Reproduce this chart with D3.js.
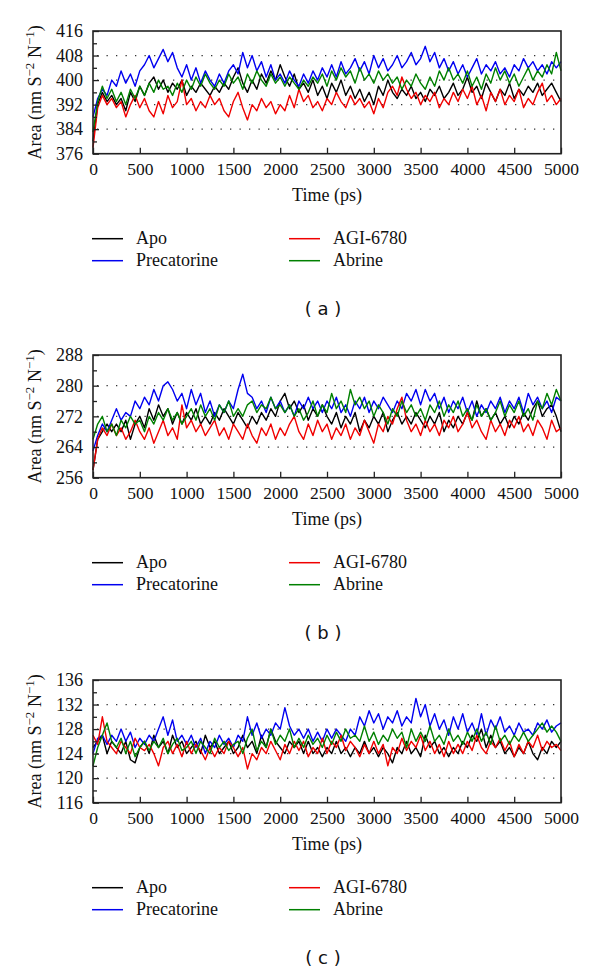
<!DOCTYPE html>
<html><head><meta charset="utf-8">
<script src="https://cdn.jsdelivr.net/npm/d3@7"></script>
<style>body{margin:0;background:#fff}svg{display:block}</style>
</head><body>
<svg id="c" width="600" height="971"></svg>
<script>
const timePs = d3.range(0, 5001, 50);
const seriesNames = ["Apo", "Precatorine", "AGI-6780", "Abrine"];
const seriesColors = ["#000000", "#0000f0", "#f00000", "#008000"];
const panelLabels = ["( a )", "( b )", "( c )"];
const yDomains = [[376, 416], [256, 288], [116, 136]];
const yTickStep = [8, 8, 4];
const xTicks = [0,500,1000,1500,2000,2500,3000,3500,4000,4500,5000];

const aApo = [380,392,396,393,395,392,394,390,396,393,398,395,399,401,397,400,396,399,397,400,395,398,396,399,397,395,398,396,399,397,401,404,399,396,400,397,402,399,403,400,405,401,398,402,397,399,396,400,395,398,394,399,396,400,395,398,394,397,393,396,392,398,395,400,396,394,397,395,398,394,396,393,397,395,398,394,396,399,395,397,401,396,398,394,399,396,393,397,395,399,394,397,395,398,396,399,395,397,399,396,393];
const aPrec = [388,394,397,395,400,398,403,399,402,398,403,405,408,404,407,410,406,409,404,401,405,400,404,399,403,400,398,402,399,403,405,402,409,404,408,403,406,401,405,400,402,399,403,400,398,402,399,403,400,404,401,405,401,406,402,404,407,403,406,402,408,404,407,403,405,408,404,406,409,405,407,411,406,409,404,407,403,406,402,405,401,404,407,402,405,403,406,402,404,401,405,403,407,404,406,403,405,402,406,404,406];
const aAgi = [378,391,395,392,394,391,393,388,392,395,391,394,390,388,393,389,395,391,393,400,392,394,390,393,391,395,392,394,390,388,393,396,391,387,392,390,394,391,393,389,392,390,395,391,397,393,395,391,393,390,394,392,396,393,391,395,392,394,391,393,389,394,391,396,398,395,401,397,394,396,392,395,393,396,391,394,392,396,393,397,394,398,392,395,390,396,393,397,392,395,393,397,391,394,392,396,399,393,395,392,394];
const aAbr = [383,393,398,394,397,393,396,392,397,394,398,395,399,396,400,397,398,395,399,396,400,397,401,398,402,399,397,400,398,402,399,401,397,402,399,403,400,398,402,399,401,398,401,399,397,400,398,401,399,402,398,403,400,404,401,403,399,404,400,402,399,403,400,402,399,401,397,400,398,402,399,397,401,398,403,400,404,400,402,399,403,398,401,397,402,399,404,400,403,399,402,398,401,404,400,403,401,405,402,409,403];

const bApo = [258,266,268,270,268,270,268,271,266,270,272,269,274,271,275,272,274,270,273,270,273,271,274,270,272,270,273,271,274,272,270,273,271,269,272,270,273,271,274,272,276,278,274,276,273,275,271,274,272,275,272,270,273,269,272,270,273,268,271,269,272,270,273,268,271,273,270,272,270,273,271,269,272,270,273,268,271,269,272,270,273,271,276,272,274,271,273,270,272,269,272,270,273,271,274,276,272,274,275,272,268];
const bPrec = [263,267,270,268,271,274,271,273,272,276,274,277,275,279,276,280,281,279,276,278,274,279,275,278,273,276,272,275,273,276,274,279,283,278,277,274,276,273,277,274,276,273,275,272,276,274,277,274,276,273,276,274,277,273,275,272,276,274,277,273,276,274,277,275,273,276,274,278,276,279,275,279,276,278,274,277,273,276,274,277,273,276,272,275,273,276,274,277,273,276,274,277,273,278,275,277,274,276,273,277,276];
const bAgi = [258,266,269,267,270,267,269,266,268,271,268,266,269,265,268,271,267,269,266,275,269,271,268,270,267,269,271,267,269,266,270,268,266,270,267,265,269,267,270,266,269,267,270,272,268,266,270,267,271,268,270,266,269,267,270,266,269,267,271,268,265,270,268,272,270,274,277,271,268,270,267,271,268,270,267,271,269,272,268,270,273,269,271,268,266,271,268,270,267,271,269,272,268,270,267,271,269,266,271,268,269];
const bAbr = [266,270,272,268,270,267,271,269,272,270,271,268,272,270,273,271,274,271,273,270,272,274,271,275,272,274,271,275,273,276,272,274,272,275,276,273,275,274,277,274,275,273,275,272,274,271,273,276,272,275,273,278,274,276,273,279,275,277,274,276,272,275,273,270,274,272,276,273,275,272,274,271,275,273,276,272,275,273,276,272,274,271,275,272,274,271,273,276,272,275,273,276,272,274,271,276,274,278,275,279,276];

const cApo = [125,126,127,124,126,125,124,126,123,122.5,125,126,124,127,125,126,124,127,125,126,124,125,126,124,127,125,126,124,125,126,124,125,127,125,126,124,127,125,128,126,125,124,126,125,126,124,126,124,125,123.5,125,124,126,124,125,123.5,125,124,126,124,125,123.5,125,124,122.5,125,124,126,124,125,123.5,127,125,126,124,125,123.5,125,124,126,125,127,126,128,125,127,125,126,124,125,123.5,125,124,126,124,123,125,124,126,125,126];
const cPrec = [124,126.5,127,125.5,127,126,128,126,127.5,125,126.5,125.5,127,126,128,130,127,129.5,126,127,125.5,127,125,126.5,124,126,125,127,125.5,126.5,125,127,126,130,127,129,126.5,128,127,129,128,131.5,128.5,127,128,126.5,128,126,127.5,126,128,126.5,128,127,126,128,127,130,128.5,131,129,130.5,128,130,129,131,128.5,130,129,133,130,132,128.5,130.5,128,129.5,127,130,128,130.5,127.5,129,127,130.5,127,129.5,128,130,127.5,128.5,127,129,127.5,128,127,129,128,129.5,127.5,128.5,129];
const cAgi = [127,125.5,130,126,125,124,126,125,124,126.5,125,124.5,125.5,124,122,125,126,124,125.5,123.5,126,124,125.5,124.5,123,125,123.5,125,124,126,125,123.5,125,121.5,124,123,125,124,126,124.5,123,125.5,124,126,124.5,126,123.5,125,124,126.5,124,126,125,127,124.5,126,125,123.5,125.5,124,126,124,125.5,122,125,124,126.5,124.5,126,125,127,124.5,126,124,125.5,123.5,126,124,125.5,124,126,124.5,127,125,124,126,125,126.5,124.5,126,123.5,125.5,124,126,125,127,124.5,126,125,125.5,124.5];
const cAbr = [122,125,127,129,126,125,126.5,124,126,123.5,125,126,124.5,126,125,126.5,124,125.5,126.5,124.5,125,126,124,126,125,124,126.5,125,126,124.5,125.5,126,124,126.5,128,124.5,126,125,128,125.5,127,126,128,125,126.5,125,127,125.5,126.5,125,127,125.5,127.5,126,128,126.5,127,126,128.5,126,127.5,125.5,127,126,128,126.5,127.5,125,128,126,127.5,126,128.5,126,127,125.5,128,126,127,125.5,127.5,126,128,126,127.5,125.5,128.5,126,127,125.5,127,126,127.5,126,127,128,129,127.5,128.5,127.5,126];

const panelData = [[aApo,aPrec,aAgi,aAbr],[bApo,bPrec,bAgi,bAbr],[cApo,cPrec,cAgi,cAbr]];

const svg = d3.select("#c");
const serif = "'Liberation Serif','Times New Roman',serif";
const left = 93, right = 561, ph = 122.7;
const tops = [31, 355, 680];
const x = d3.scaleLinear().domain([0, 5000]).range([left, right]);

panelData.forEach((series, p) => {
  const top = tops[p], bottom = top + ph;
  const [y0, y1] = yDomains[p];
  const step = yTickStep[p];
  const y = d3.scaleLinear().domain([y0, y1]).range([bottom, top]);
  const g = svg.append("g");
  const majors = d3.range(y0, y1 + 0.001, step);
  const minors = d3.range(y0 + step / 2, y1, step);

  // dotted gridlines
  g.selectAll(".grid").data(majors.filter(v => v > y0 && v < y1)).join("line")
    .attr("x1", left + 4).attr("x2", right - 4)
    .attr("y1", d => y(d)).attr("y2", d => y(d))
    .attr("stroke", "#333").attr("stroke-width", 1.3)
    .attr("stroke-dasharray", "1.3,8.2");

  // lines
  const line = d3.line().x((d, i) => x(timePs[i])).y(d => y(d));
  series.forEach((s, k) => {
    g.append("path").datum(s).attr("d", line)
      .attr("fill", "none").attr("stroke", seriesColors[k])
      .attr("stroke-width", 1.4).attr("stroke-linejoin", "round");
  });

  // frame
  g.append("rect").attr("x", left).attr("y", top).attr("width", right - left).attr("height", ph)
    .attr("fill", "none").attr("stroke", "#222").attr("stroke-width", 1.6);

  // y ticks
  const yAxis = d3.axisLeft(y).tickValues(majors).tickSize(-6).tickPadding(10).tickFormat(d3.format("d"));
  const ya = g.append("g").attr("transform", `translate(${left},0)`).call(yAxis);
  ya.select(".domain").remove();
  ya.selectAll("line").attr("stroke", "#222").attr("stroke-width", 1.3);
  ya.selectAll("text").attr("font-family", serif).attr("font-size", 18).attr("fill", "#111");
  const yMinor = d3.axisLeft(y).tickValues(minors).tickSize(-4).tickFormat("");
  const ym = g.append("g").attr("transform", `translate(${left},0)`).call(yMinor);
  ym.select(".domain").remove();
  ym.selectAll("line").attr("stroke", "#222").attr("stroke-width", 1.3);

  // x ticks
  const xAxis = d3.axisBottom(x).tickValues(xTicks).tickSize(-6).tickPadding(9).tickFormat(d3.format("d"));
  const xa = g.append("g").attr("transform", `translate(0,${bottom})`).call(xAxis);
  xa.select(".domain").remove();
  xa.selectAll("line").attr("stroke", "#222").attr("stroke-width", 1.3);
  xa.selectAll("text").attr("font-family", serif).attr("font-size", 17.5).attr("fill", "#111");

  // axis titles
  g.append("text").attr("x", (left + right) / 2).attr("y", bottom + 47)
    .attr("text-anchor", "middle").attr("font-family", serif).attr("font-size", 18).attr("fill", "#111")
    .text("Time (ps)");
  const yt = g.append("text")
    .attr("transform", `translate(41,${(top + bottom) / 2}) rotate(-90)`)
    .attr("text-anchor", "middle").attr("font-family", serif).attr("font-size", 18).attr("fill", "#111");
  yt.append("tspan").text("Area (nm S");
  yt.append("tspan").attr("dy", -7).attr("font-size", 13).text("\u22122");
  yt.append("tspan").attr("dy", 7).text(" N");
  yt.append("tspan").attr("dy", -7).attr("font-size", 13).text("\u22121");
  yt.append("tspan").attr("dy", 7).text(")");

  // legend
  const legX = [92, 289], legY = [bottom + 85, bottom + 107];
  const order = [[0, 0, 0], [1, 0, 1], [2, 1, 0], [3, 1, 1]];
  order.forEach(([k, col, row]) => {
    const lx = legX[col], ly = legY[row];
    g.append("line").attr("x1", lx).attr("x2", lx + 31).attr("y1", ly).attr("y2", ly)
      .attr("stroke", seriesColors[k]).attr("stroke-width", 1.5);
    g.append("text").attr("x", lx + 44).attr("y", ly + 5.5)
      .attr("font-family", serif).attr("font-size", 18).attr("fill", "#111")
      .text(seriesNames[k]);
  });

  g.append("text").attr("x", 323).attr("y", bottom + 161)
    .attr("text-anchor", "middle").attr("font-family", "'DejaVu Sans','Liberation Sans',sans-serif")
    .attr("font-size", 18).attr("fill", "#111").attr("xml:space", "preserve").text(panelLabels[p]);
});
</script>
</body></html>
